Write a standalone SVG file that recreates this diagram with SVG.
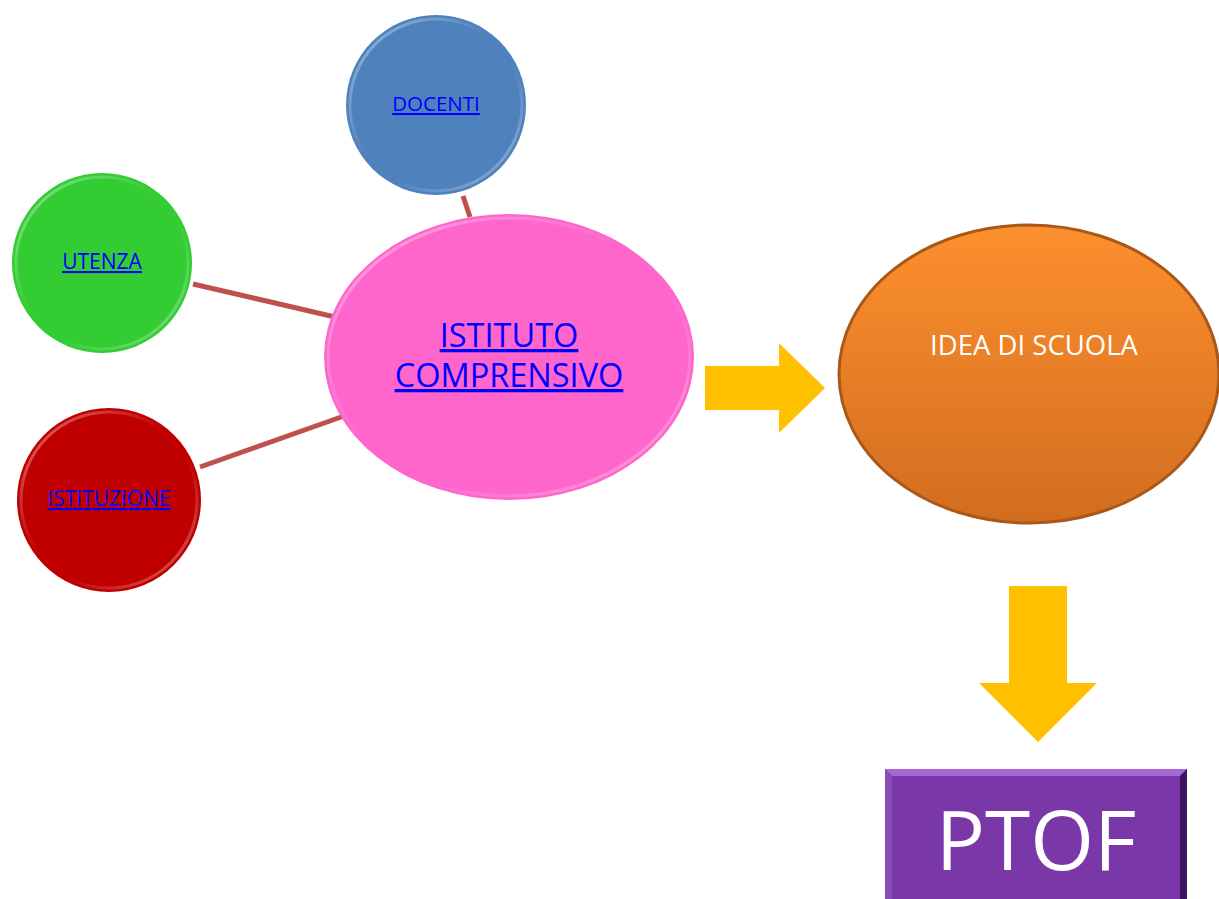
<svg xmlns="http://www.w3.org/2000/svg" width="1219" height="899" viewBox="0 0 1219 899">
<style>
.lbl{font-family:"Open Sans","Noto Sans","Liberation Sans",sans-serif;text-anchor:middle;}
.link{fill:#0000ff;text-decoration:underline;}
.conn{stroke:#c0504d;stroke-width:5;stroke-linecap:butt;}
.arrow{fill:#ffc000;}
.rim{fill:none;stroke:url(#rim);stroke-width:3;}
</style>
<defs>
<linearGradient id="rim" x1="0" y1="0" x2="1" y2="1">
<stop offset="0" stop-color="#ffffff" stop-opacity="0.45"/>
<stop offset="0.45" stop-color="#ffffff" stop-opacity="0"/>
<stop offset="0.6" stop-color="#ffffff" stop-opacity="0"/>
<stop offset="1" stop-color="#ffffff" stop-opacity="0.4"/>
</linearGradient>
<linearGradient id="orange" x1="0" y1="0" x2="0" y2="1">
<stop offset="0" stop-color="#fd902e"/>
<stop offset="1" stop-color="#d26d1f"/>
</linearGradient>
</defs>
<g id="connectors">
<line class="conn" x1="463" y1="196" x2="470" y2="217"/>
<line class="conn" x1="193" y1="284" x2="335" y2="317"/>
<line class="conn" x1="200" y1="467" x2="344" y2="416"/>
<path id="arrow-right" class="arrow" d="M705,366 H779 V343 L825,388 L779,433 V410 H705 Z"/>
<path id="arrow-down" class="arrow" d="M1009,586 H1067 V683 H1097 L1038,742 L979,683 H1009 Z"/>
</g>
<g id="docenti">
<circle cx="436" cy="105" r="90" fill="#4f81bd"/>
<circle class="rim" cx="436" cy="105" r="86"/>
<text class="lbl link" x="436" y="111" font-size="20.5">DOCENTI</text>
</g>
<g id="utenza">
<circle cx="102" cy="263" r="90" fill="#33cc33"/>
<circle class="rim" cx="102" cy="263" r="86"/>
<text class="lbl link" x="102" y="269" font-size="21">UTENZA</text>
</g>
<g id="istituzione">
<circle cx="109" cy="500" r="92" fill="#c00000"/>
<circle class="rim" cx="109" cy="500" r="88"/>
<text class="lbl link" x="109" y="506" font-size="21">ISTITUZIONE</text>
</g>
<g id="istituto">
<ellipse cx="509" cy="357" rx="185" ry="143" fill="#ff66cc"/>
<ellipse class="rim" cx="509" cy="357" rx="181" ry="139"/>
<text class="lbl link" x="509" y="347" font-size="32.5">ISTITUTO</text>
<text class="lbl link" x="509" y="387" font-size="32.5">COMPRENSIVO</text>
</g>
<g id="idea">
<ellipse cx="1029" cy="374" rx="190" ry="149" fill="url(#orange)" stroke="#a9581a" stroke-width="3"/>
<text class="lbl" x="1034" y="355" font-size="27.5" fill="#ffffff">IDEA DI SCUOLA</text>
</g>
<g id="ptof">
<rect x="885" y="769" width="302" height="131" fill="#7a37a8"/>
<path d="M885,769 H1187 L1180,776 H892 Z" fill="#a669d4"/>
<path d="M1187,769 V899 H1180 V776 Z" fill="#3e1660"/>
<path d="M885,769 L892,776 V899 H885 Z" fill="#8b4bb8"/>
<text class="lbl" x="1036" y="870" font-size="82" fill="#ffffff">PTOF</text>
</g>
</svg>
